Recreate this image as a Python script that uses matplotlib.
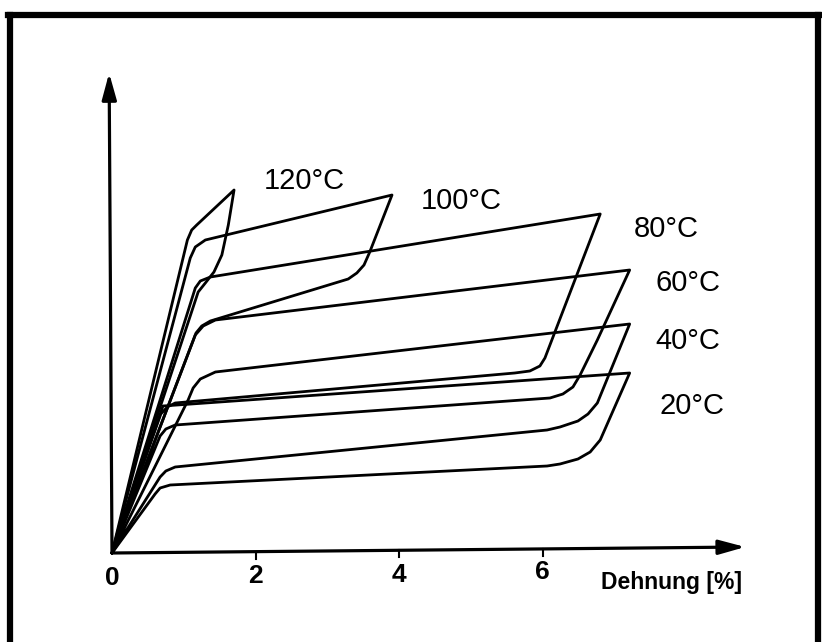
import matplotlib.pyplot as plt
from matplotlib.lines import Line2D

plt.rcParams['font.family'] = ['Liberation Sans', 'DejaVu Sans']

# Hysteresekurven (Dehnung in %, Spannung ohne Einheit, nur relativ)
dehnung_20 = [0, 0.71, 7.21, 6.80, 6.66, 6.49, 6.24, 6.06, 0.81, 0.67, 0.60, 0]
spannung_20 = [0, 147, 180, 113, 101, 94, 89, 87, 68, 65, 59, 0]

dehnung_40 = [0, 1.06, 1.13, 1.23, 1.44, 7.21, 6.76, 6.63, 6.49, 6.24, 6.06, 0.88, 0.75, 0.67, 0]
spannung_40 = [0, 153, 165, 174, 181, 229, 150, 139, 132, 126, 123, 86, 82, 76, 0]

dehnung_60 = [0, 1.16, 1.27, 1.44, 7.21, 6.76, 6.52, 6.42, 6.28, 6.10, 0.88, 0.75, 0.67, 0]
spannung_60 = [0, 218, 227, 233, 283, 213, 178, 166, 159, 155, 128, 124, 117, 0]

dehnung_80 = [0, 1.16, 1.23, 1.37, 6.80, 6.03, 5.96, 5.82, 5.61, 0.88, 0.77, 0.68, 0]
spannung_80 = [0, 265, 272, 276, 339, 195, 187, 182, 180, 150, 146, 139, 0]

dehnung_100 = [0, 1.09, 1.16, 1.30, 3.90, 3.59, 3.51, 3.41, 3.29, 1.37, 1.25, 1.17, 0]
spannung_100 = [0, 295, 306, 313, 358, 301, 288, 280, 274, 232, 227, 220, 0]

dehnung_120 = [0, 1.05, 1.11, 1.18, 1.70, 1.62, 1.53, 1.42, 1.30, 1.20, 0]
spannung_120 = [0, 313, 323, 328, 363, 328, 298, 281, 270, 261, 0]

temperaturen = ['20°C', '40°C', '60°C', '80°C', '100°C', '120°C']
tick_werte = [0, 2, 4, 6]

fig = plt.figure(figsize=(8.22, 6.42), dpi=100)
ax = fig.add_axes([0, 0, 1, 1])
ax.set_xlim(-1.56, 9.889)
ax.set_ylim(-89, 553)
ax.axis('off')

kurven = [(dehnung_20, spannung_20), (dehnung_40, spannung_40), (dehnung_60, spannung_60),
          (dehnung_80, spannung_80), (dehnung_100, spannung_100), (dehnung_120, spannung_120)]
for x, y in kurven:
    ax.plot(x, y, color='black', lw=2.0, solid_joinstyle='round', solid_capstyle='round')

# Achsen mit Pfeilen (Scan leicht schief)
pfeil = dict(arrowstyle='-|>,head_length=0.8,head_width=0.22', lw=2.3, color='black',
             mutation_scale=20, shrinkA=0, shrinkB=0)
ax.annotate('', xy=(8.82, 6), xytext=(0, 0), arrowprops=pfeil)
ax.annotate('', xy=(-0.04, 480), xytext=(0, 0), arrowprops=pfeil)

# kleine Striche und Beschriftung an der x-Achse
for w in tick_werte[1:]:
    y0 = w * 0.68
    ax.plot([w, w], [y0 - 7, y0], color='black', lw=1.5)

tick_y = [-25, -23, -22, -19]
for w, ty in zip(tick_werte, tick_y):
    ax.text(w, ty, str(w), ha='center', va='center', fontsize=19, fontweight='bold')

ax.text(7.79, -29, 'Dehnung [%]', ha='center', va='center', fontsize=16.5, fontweight='bold')

# Temperaturen an den Kurven
label_x = [8.08, 8.02, 8.02, 7.72, 4.87, 2.68]
label_y = [147, 212, 270, 324, 352, 372]
for t, lx, ly in zip(temperaturen, label_x, label_y):
    ax.text(lx, ly, t, ha='center', va='center', fontsize=21)

# Rahmen um das Bild
fig.add_artist(Line2D([10 / 822, 10 / 822], [0, 1 - 15 / 642], color='black', lw=4.5))
fig.add_artist(Line2D([8 / 822, 820 / 822], [1 - 15 / 642, 1 - 15 / 642], color='black', lw=4.5))
fig.add_artist(Line2D([818 / 822, 818 / 822], [0, 1 - 15 / 642], color='black', lw=4.5))

plt.savefig('out.png', dpi=100)
